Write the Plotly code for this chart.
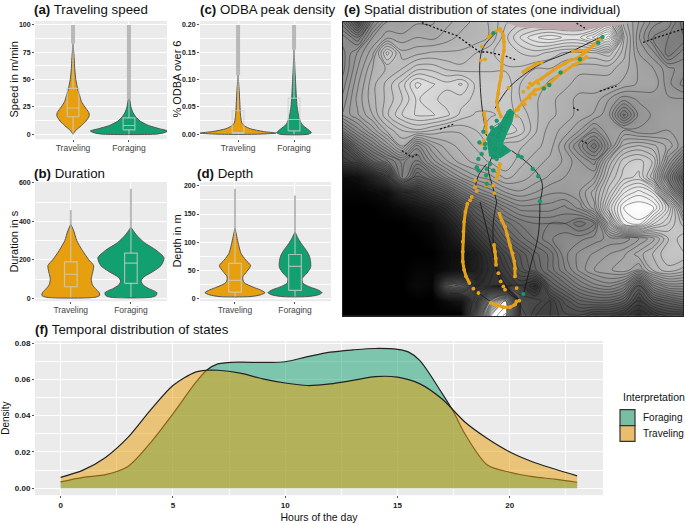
import plotly.graph_objects as go

W, H = 685, 523
ORANGE = "#E69F0F"
GREEN = "#12A070"
PANEL = "#EBEBEB"
FONT = "Liberation Sans"

# ---- violin profiles: value, half-width (in category units) ----
speed_trav_y = [0, 3, 8, 12, 17, 20, 25, 30, 35, 40, 50, 60, 70, 83]
speed_trav_w = [0, .04, .15, .23, .29, .28, .21, .15, .12, .09, .05, .03, .02, 0]
speed_for_y = [0, 1, 3, 5, 8, 12, 16, 20, 25, 32]
speed_for_w = [.45, .6, .69, .55, .35, .2, .12, .07, .035, .01]
odba_trav_y = [0, .002, .005, .01, .015, .02, .03, .04, .06, .08, .108]
odba_trav_w = [.3, .68, .45, .22, .12, .07, .05, .04, .03, .02, 0]
odba_for_y = [0, .003, .008, .015, .02, .03, .04, .05, .07, .09, .12, .155]
odba_for_w = [.25, .31, .26, .17, .13, .09, .07, .055, .04, .03, .015, 0]
dur_trav_y = [5, 15, 30, 50, 70, 100, 130, 170, 200, 250, 300, 350, 385]
dur_trav_w = [.40, .48, .47, .41, .36, .34, .36, .38, .30, .19, .10, .05, 0]
dur_for_y = [5, 15, 30, 50, 70, 90, 110, 140, 170, 210, 250, 290, 330, 370]
dur_for_w = [.33, .42, .43, .30, .20, .17, .21, .37, .50, .55, .42, .22, .09, 0]
depth_trav_y = [3, 6, 10, 15, 20, 28, 38, 48, 58, 68, 80, 100, 125]
depth_trav_w = [.25, .42, .50, .42, .30, .15, .13, .2, .26, .18, .10, .05, 0]
depth_for_y = [3, 6, 10, 15, 20, 27, 35, 45, 55, 65, 75, 85, 95, 105, 118]
depth_for_w = [.2, .38, .45, .38, .25, .13, .12, .2, .26, .26, .24, .19, .12, .06, 0]

# box statistics: low, q1, median, q3, high
speed_box = [[0, 16, 24, 42, 83], [0, 4, 8, 15, 32]]
odba_box = [[0, .002, .003, .043, .108], [0, .006, .027, .066, .155]]
dur_box = [[5, 60, 125, 190, 385], [5, 78, 183, 235, 370]]
depth_box = [[3, 11, 32, 62, 125], [3, 14, 57, 78, 118]]
# outlier span above the violin (low, high)
speed_out = [[83, 100], [32, 100]]
odba_out = [[.108, .2], [.155, .2]]
dur_out = [[385, 460], [370, 570]]
depth_out = [[125, 195], [118, 183]]

categories = ["Traveling", "Foraging"]

# ---- temporal densities ----
hours_for = [0, 1, 2, 3, 4, 5, 6, 6.5, 7, 8, 9, 10, 11, 12, 13, 14, 15, 15.5, 16, 17, 17.5, 18, 19, 20, 21, 22, 23]
dens_for = [.0035, .006, .0075, .012, .025, .041, .058, .065, .0685, .0695, .0693, .0697, .0725, .075, .0762,
            .077, .0765, .075, .0703, .052, .042, .030, .0128, .0088, .0064, .005, .0033]
hours_trav = [0, 1, 2, 3, 4, 5, 6, 6.5, 7, 8, 9, 10, 11, 12, 13, 14, 15, 16, 17, 18, 19, 20, 21, 22, 23]
dens_trav = [.006, .010, .017, .028, .043, .0566, .064, .065, .065, .0634, .0603, .058, .0566, .0575, .0594,
             .0615, .0612, .0575, .049, .0365, .0274, .020, .0146, .0106, .0068]

# ---- map: grey level of the bathymetry ----
map_x = [8, 52, 97, 141, 186, 230, 275, 319, 363, 408, 452, 497, 541, 586, 630, 674, 719, 763, 808, 852, 897, 941, 986, 1030]
map_y = [56, 103, 150, 197, 244, 290, 337, 384, 431, 478, 525, 571, 618, 665, 711, 758, 805, 852, 899, 945]
map_z = [
    [115, 80, 130, 150, 150, 155, 155, 160, 165, 170, 175, 185, 190, 190, 190, 190, 190, 190, 205, 165, 150, 135, 130, 110],
    [135, 120, 150, 160, 158, 162, 160, 165, 170, 170, 175, 190, 205, 215, 220, 215, 215, 230, 250, 175, 145, 125, 120, 115],
    [130, 145, 160, 195, 170, 172, 175, 175, 175, 180, 185, 190, 192, 195, 190, 185, 185, 185, 190, 170, 150, 140, 115, 130],
    [130, 150, 168, 175, 180, 190, 190, 185, 182, 185, 185, 185, 185, 180, 180, 175, 170, 170, 170, 165, 155, 150, 140, 135],
    [135, 155, 172, 182, 195, 212, 205, 200, 205, 190, 190, 190, 180, 180, 172, 170, 165, 165, 165, 160, 155, 155, 140, 130],
    [140, 158, 172, 182, 192, 205, 200, 195, 195, 190, 190, 190, 180, 175, 170, 165, 160, 160, 150, 140, 145, 145, 145, 145],
    [145, 155, 168, 185, 198, 205, 205, 200, 190, 185, 185, 188, 185, 175, 170, 165, 160, 155, 145, 112, 140, 145, 150, 150],
    [115, 135, 152, 170, 180, 185, 180, 175, 175, 180, 192, 198, 190, 175, 165, 160, 150, 135, 150, 150, 145, 145, 150, 150],
    [70, 105, 125, 145, 168, 135, 155, 165, 170, 175, 180, 175, 175, 170, 165, 150, 130, 110, 140, 170, 175, 170, 160, 145],
    [55, 65, 95, 112, 128, 118, 140, 155, 165, 170, 175, 180, 170, 165, 160, 155, 145, 135, 170, 190, 195, 185, 145, 115],
    [10, 15, 35, 60, 130, 95, 110, 130, 145, 155, 160, 170, 165, 160, 155, 150, 150, 150, 180, 195, 200, 175, 125, 85],
    [5, 5, 10, 15, 40, 50, 70, 85, 110, 130, 140, 150, 155, 150, 145, 145, 150, 165, 190, 215, 225, 215, 155, 105],
    [0, 0, 0, 5, 10, 20, 30, 45, 70, 90, 110, 125, 135, 135, 135, 130, 140, 160, 205, 235, 240, 235, 205, 155],
    [0, 0, 0, 0, 0, 5, 10, 25, 45, 70, 85, 105, 115, 120, 120, 120, 110, 120, 175, 225, 232, 205, 192, 178],
    [0, 0, 0, 0, 0, 0, 5, 15, 30, 50, 70, 90, 105, 115, 125, 130, 130, 135, 140, 140, 150, 160, 180, 190],
    [0, 0, 0, 0, 0, 0, 0, 10, 15, 30, 50, 70, 85, 100, 110, 130, 140, 145, 150, 155, 165, 175, 185, 185],
    [0, 0, 0, 0, 0, 5, 5, 10, 20, 30, 45, 60, 80, 95, 110, 125, 140, 150, 155, 160, 150, 170, 178, 172],
    [0, 0, 0, 0, 0, 10, 5, 90, 100, 40, 50, 50, 60, 40, 90, 105, 120, 130, 135, 125, 85, 125, 140, 140],
    [0, 0, 0, 0, 0, 0, 0, 10, 20, 70, 180, 240, 70, 70, 60, 80, 95, 100, 100, 90, 60, 85, 95, 105],
    [0, 0, 0, 0, 0, 0, 0, 0, 0, 120, 240, 255, 80, 60, 60, 70, 70, 60, 60, 50, 40, 50, 60, 60],
]
land_x = [490, 540, 590, 690, 730, 790, 860, 870, 490]
land_y = [56, 72, 75, 82, 80, 72, 62, 56, 56]
coast_segments = [
    [(245, 58), (300, 80), (349, 97), (419, 147), (440, 147), (490, 157), (530, 172)],
    [(710, 60), (735, 75)],
    [(910, 118), (960, 100), (1030, 78)],
    [(185, 445), (215, 465), (235, 455)],
    [(725, 415), (745, 425)],
    [(700, 315), (720, 325)],
    [(300, 380), (340, 365)],
    [(780, 265), (830, 250)],
]
track_segments = [
    [(480, 77), (430, 132), (420, 172), (420, 237), (425, 307), (432, 357), (440, 400)],
    [(465, 317), (505, 257), (550, 217), (605, 182), (690, 147), (790, 98)],
    [(420, 600), (430, 640), (445, 700), (470, 800), (510, 870), (535, 895)],
    [(470, 600), (460, 660), (460, 730), (470, 810), (500, 870), (535, 895)],
    [(600, 600), (595, 700), (575, 780), (560, 840), (550, 880)],
    [(415, 875), (450, 900)],
    [(600, 600), (607, 545), (590, 510), (560, 480), (515, 445)],
    [(405, 560), (415, 520), (440, 485)],
    [(470, 600), (460, 560), (445, 500), (455, 465)],
]
travel_chains = [
    [(445, 102), (460, 89), (480, 77), (490, 97), (492, 117), (492, 142), (487, 167), (485, 192), (483, 222),
     (478, 247), (475, 272), (470, 297), (475, 322), (483, 342)],
    [(575, 247), (590, 235), (605, 227), (625, 212), (640, 202), (655, 192), (675, 182), (690, 172), (710, 167),
     (730, 152), (745, 142), (760, 127), (775, 112), (785, 105)],
    [(550, 207), (565, 197), (590, 182), (605, 179)],
    [(510, 337), (530, 322), (550, 297), (570, 277), (585, 262), (605, 257), (630, 242), (650, 222), (670, 207),
     (700, 187), (720, 177), (740, 162)],
    [(382, 605), (376, 630), (372, 660), (370, 690), (368, 720), (368, 750), (368, 780), (372, 805), (378, 825), (388, 845)],
    [(478, 635), (485, 655), (495, 675), (502, 700), (510, 730), (518, 755), (523, 780), (525, 800), (525, 825)],
    [(462, 730), (465, 750), (467, 770), (468, 790)],
    [(452, 905), (470, 912), (490, 918), (510, 918), (525, 910), (530, 900)],
    [(480, 485), (477, 500), (475, 515), (470, 530)],
    [(700, 145), (740, 142)],
    [(432, 330), (438, 365), (438, 390)],
]
travel_x = [425, 422, 432, 425, 405, 405, 410, 395, 390, 440, 438, 460, 463,
            585, 570, 555, 535, 435, 510, 530, 505, 550, 565, 570, 595,
            400, 415, 475, 482, 490, 495, 538, 530]
travel_y = [130, 172, 415, 425, 535, 555, 567, 585, 595, 540, 550, 550, 573,
            275, 285, 305, 320, 169, 345, 340, 255, 267, 255, 242, 242,
            862, 875, 815, 840, 855, 865, 898, 860]
forage_cluster_x = [510, 490, 480, 460, 445, 445, 450, 480, 510, 485, 495, 515, 520, 510]
forage_cluster_y = [320, 350, 370, 380, 400, 430, 460, 465, 445, 425, 400, 355, 330, 320]
forage_x = [460, 612, 628, 662, 720, 775, 788, 430, 418, 435, 425, 415, 410, 415, 450, 440, 460, 438, 440,
            535, 545, 578, 595, 600, 550, 470, 480, 495, 490, 455, 450, 475, 465, 500, 505, 460, 445, 435,
            470, 492, 478, 455, 485]
forage_y = [90, 257, 247, 209, 169, 119, 102, 388, 420, 438, 455, 470, 495, 505, 485, 500, 505, 520, 545,
            460, 465, 500, 522, 598, 878, 355, 370, 350, 380, 395, 425, 400, 440, 340, 330, 465, 410, 425,
            470, 440, 385, 375, 455]

# ---- panels, pixel boxes of the plot areas ----
def dom_x(a, b):
    return [a / W, b / W]

def dom_y(top, bottom):
    return [1 - bottom / H, 1 - top / H]

fig = go.Figure()

def unpack(segments):
    xs, ys = [], []
    for seg in segments:
        xs += [p[0] for p in seg] + [None]
        ys += [p[1] for p in seg] + [None]
    return xs, ys

def violin(n, pos, ys, ws, color):
    px = [pos - w for w in ws] + [pos + w for w in reversed(ws)] + [pos - ws[0]]
    py = list(ys) + list(reversed(ys)) + [ys[0]]
    fig.add_trace(go.Scatter(x=px, y=py, mode="lines", fill="toself", fillcolor=color,
                             line=dict(color="#555555", width=1, shape="spline", smoothing=0.7),
                             xaxis=f"x{n}", yaxis=f"y{n}", showlegend=False, hoverinfo="skip"))

def box(n, pos, stats, out, width):
    lo, q1, med, q3, hi = stats
    bw = 0.105
    fig.add_trace(go.Scatter(x=[pos, pos], y=out, mode="lines",
                             line=dict(color="rgba(178,178,178,0.9)", width=width),
                             xaxis=f"x{n}", yaxis=f"y{n}", showlegend=False, hoverinfo="skip"))
    bx = [pos, pos, None, pos, pos, None, pos - bw, pos + bw, pos + bw, pos - bw, pos - bw, None, pos - bw, pos + bw]
    by = [lo, q1, None, q3, hi, None, q1, q1, q3, q3, q1, None, med, med]
    fig.add_trace(go.Scatter(x=bx, y=by, mode="lines", line=dict(color="rgba(205,205,205,0.75)", width=1.2),
                             xaxis=f"x{n}", yaxis=f"y{n}", showlegend=False, hoverinfo="skip"))

panels = [
    (1, speed_trav_y, speed_trav_w, speed_for_y, speed_for_w, speed_box, speed_out, 4),
    (2, odba_trav_y, odba_trav_w, odba_for_y, odba_for_w, odba_box, odba_out, 4),
    (3, dur_trav_y, dur_trav_w, dur_for_y, dur_for_w, dur_box, dur_out, 2),
    (4, depth_trav_y, depth_trav_w, depth_for_y, depth_for_w, depth_box, depth_out, 2),
]
for n, ty, tw, fy, fw, bx, ou, ow in panels:
    violin(n, 1, ty, tw, ORANGE)
    violin(n, 2, fy, fw, GREEN)
    box(n, 1, bx[0], ou[0], ow)
    box(n, 2, bx[1], ou[1], ow)

# map
fig.add_trace(go.Heatmap(x=map_x, y=map_y, z=map_z, zmin=0, zmax=240, zsmooth="best", showscale=False,
                         colorscale=[[0, "#000000"], [1, "#ffffff"]], xaxis="x5", yaxis="y5", hoverinfo="skip"))
fig.add_trace(go.Contour(x=map_x, y=map_y, z=map_z, showscale=False, hoverinfo="skip",
                         contours=dict(coloring="none", start=12, end=252, size=6),
                         line=dict(color="rgba(25,25,25,0.72)", width=0.6, smoothing=1.0),
                         xaxis="x5", yaxis="y5"))
fig.add_trace(go.Scatter(x=land_x, y=land_y, mode="lines", fill="toself", fillcolor="#BBA6AA",
                         line=dict(width=0), xaxis="x5", yaxis="y5", showlegend=False, hoverinfo="skip"))
cx, cy = unpack(coast_segments)
fig.add_trace(go.Scatter(x=cx, y=cy, mode="lines", line=dict(color="#111111", width=1.3, dash="2px,2px"),
                         xaxis="x5", yaxis="y5", showlegend=False, hoverinfo="skip"))
tx, ty = unpack(track_segments)
fig.add_trace(go.Scatter(x=tx, y=ty, mode="lines", line=dict(color="#1a1a1a", width=0.9, shape="spline"),
                         xaxis="x5", yaxis="y5", showlegend=False, hoverinfo="skip"))
ox, oy = unpack(travel_chains)
fig.add_trace(go.Scatter(x=ox, y=oy, mode="lines+markers", line=dict(color="#E5A11A", width=3),
                         marker=dict(color="#E5A11A", size=3.8),
                         xaxis="x5", yaxis="y5", showlegend=False, hoverinfo="skip"))
fig.add_trace(go.Scatter(x=travel_x, y=travel_y, mode="markers", marker=dict(color="#E5A11A", size=3.8),
                         xaxis="x5", yaxis="y5", showlegend=False, hoverinfo="skip"))
fig.add_trace(go.Scatter(x=forage_cluster_x, y=forage_cluster_y, mode="lines", fill="toself", fillcolor="#1B9A72",
                         line=dict(color="#1B9A72", width=2), xaxis="x5", yaxis="y5", showlegend=False, hoverinfo="skip"))
fig.add_trace(go.Scatter(x=forage_x, y=forage_y, mode="markers",
                         marker=dict(color="#1B9A72", size=4, line=dict(color="#157a5a", width=0.3)),
                         xaxis="x5", yaxis="y5", showlegend=False, hoverinfo="skip"))

# temporal densities
fig.add_trace(go.Scatter(x=hours_for, y=dens_for, mode="lines", fill="tozeroy", fillcolor="rgba(18,160,112,0.5)",
                         line=dict(color="#222222", width=1.2, shape="spline", smoothing=0.8),
                         xaxis="x6", yaxis="y6", name="Foraging", showlegend=False, hoverinfo="skip"))
fig.add_trace(go.Scatter(x=hours_trav, y=dens_trav, mode="lines", fill="tozeroy", fillcolor="rgba(230,159,15,0.52)",
                         line=dict(color="#222222", width=1.2, shape="spline", smoothing=0.8),
                         xaxis="x6", yaxis="y6", name="Traveling", showlegend=False, hoverinfo="skip"))

tick_small = dict(family=FONT, size=7, color="#1a1a1a")
tick_wide = dict(family=FONT, size=8, color="#1a1a1a")
catfont = dict(family=FONT, size=8.5, color="#444444")

def cat_axis(a, b, rng, anchor):
    return dict(domain=dom_x(a, b), range=rng, anchor=anchor, tickvals=[1, 2], ticktext=categories,
                tickfont=catfont, showgrid=True, gridcolor="white", gridwidth=1, zeroline=False,
                ticks="outside", ticklen=2, tickcolor="#555555", tickwidth=1, showline=False, ticklabelstandoff=-1)

def val_axis(top, bottom, rng, anchor, vals, labels, minor):
    return dict(domain=dom_y(top, bottom), range=rng, anchor=anchor, tickvals=vals,
                ticktext=[f"<b>{t}</b>" for t in labels], tickfont=tick_small, showgrid=True, gridcolor="white",
                gridwidth=1.1, zeroline=False, ticks="outside", ticklen=2, tickcolor="#555555", tickwidth=1,
                minor=dict(tickvals=minor, showgrid=True, gridcolor="white", gridwidth=0.5, ticks=""))

def yr(y0px, y1px, v1, top, bottom):
    """Axis range for a panel whose 0 sits at y0px and value v1 at y1px."""
    k = v1 / (y0px - y1px)
    return [(y0px - bottom) * k, (y0px - top) * k]

layout = dict(width=W, height=H, margin=dict(l=0, r=0, t=0, b=0), paper_bgcolor="white", plot_bgcolor=PANEL,
              font=dict(family=FONT), showlegend=False,
              xaxis=cat_axis(35, 167, [.32, 2.68], "y"),
              yaxis=val_axis(18, 137, yr(132, 22, 100, 18, 137), "x", [0, 25, 50, 75, 100],
                             ["0", "25", "50", "75", "100"], [12.5, 37.5, 62.5, 87.5]),
              xaxis2=cat_axis(200, 331, [.32, 2.66], "y2"),
              yaxis2=val_axis(18, 137, yr(132, 22, .2, 18, 137), "x2", [0, .05, .1, .15, .2],
                              ["0.00", "0.05", "0.10", "0.15", "0.20"], [.025, .075, .125, .175]),
              xaxis3=cat_axis(35, 167, [.405, 2.6], "y3"),
              yaxis3=val_axis(180, 300, yr(297, 181, 600, 180, 300), "x3", [0, 200, 400, 600],
                              ["0", "200", "400", "600"], [100, 300, 500]),
              xaxis4=cat_axis(200, 331, [.417, 2.6], "y4"),
              yaxis4=val_axis(180, 300, yr(297, 184, 200, 180, 300), "x4", [0, 50, 100, 150, 200],
                              ["0", "50", "100", "150", "200"], [25, 75, 125, 175]),
              xaxis5=dict(domain=dom_x(343, 683), range=[8, 1030], anchor="y5", showticklabels=False, ticks="",
                          showgrid=False, zeroline=False, mirror=True, showline=True, linecolor="#222222", linewidth=1),
              yaxis5=dict(domain=dom_y(19, 315), range=[945, 56], anchor="x5", showticklabels=False, ticks="",
                          showgrid=False, zeroline=False, mirror=True, showline=True, linecolor="#222222", linewidth=1),
              xaxis6=dict(domain=dom_x(35, 603), range=[-1.14, 24.15], anchor="y6", tickvals=[0, 5, 10, 15, 20],
                          ticktext=["<b>0</b>", "<b>5</b>", "<b>10</b>", "<b>15</b>", "<b>20</b>"], tickfont=tick_wide,
                          showgrid=True, gridcolor="white", gridwidth=1.1, zeroline=False, ticks="outside", ticklen=2,
                          tickcolor="#555555", minor=dict(tickvals=[2.5, 7.5, 12.5, 17.5, 22.5], showgrid=True,
                                                         gridcolor="white", gridwidth=0.5, ticks=""),
                          title=dict(text="Hours of the day", font=dict(family=FONT, size=10.5, color="#111111"), standoff=5)),
              yaxis6=dict(domain=dom_y(340, 495), range=[-.0038, .0811], anchor="x6", tickvals=[0, .02, .04, .06, .08],
                          ticktext=["<b>0.00</b>", "<b>0.02</b>", "<b>0.04</b>", "<b>0.06</b>", "<b>0.08</b>"],
                          tickfont=tick_wide, showgrid=True, gridcolor="white", gridwidth=1.1, zeroline=False,
                          ticks="outside", ticklen=2, tickcolor="#555555",
                          minor=dict(tickvals=[.01, .03, .05, .07], showgrid=True, gridcolor="white", gridwidth=0.5, ticks=""),
                          title=dict(text="Density", font=dict(family=FONT, size=10, color="#111111"), standoff=3)),
              )
fig.update_layout(**layout)

titles = [
    ("(a)", "Traveling speed", 32, 7), ("(c)", "ODBA peak density", 198, 7),
    ("(b)", "Duration", 32, 171), ("(d)", "Depth", 195, 171),
    ("(e)", "Spatial distribution of states (one individual)", 342, 7),
    ("(f)", "Temporal distribution of states", 33, 328),
]
for tag, text, x, y in titles:
    fig.add_annotation(text=f"<b>{tag}</b> {text}", xref="paper", yref="paper", x=x / W, y=1 - y / H,
                       xanchor="left", yanchor="middle", showarrow=False,
                       font=dict(family=FONT, size=13.3, color="#111111"))

y_titles = [("Speed in m/min", 14, 77), ("% ODBA over 6", 177, 77), ("Duration in s", 14, 240), ("Depth in m", 177, 240)]
for text, x, y in y_titles:
    fig.add_annotation(text=text, xref="paper", yref="paper", x=x / W, y=1 - y / H, textangle=-90,
                       xanchor="center", yanchor="middle", showarrow=False,
                       font=dict(family=FONT, size=11, color="#111111"))

# legend keys
legend_items = [("Foraging", "#78BEA3", 409, 425), ("Traveling", "#E8BE6E", 425, 441)]
for label, col, top, bottom in legend_items:
    fig.add_shape(type="rect", xref="paper", yref="paper", x0=620 / W, x1=635 / W, y0=1 - bottom / H, y1=1 - top / H,
                  fillcolor=col, line=dict(color="#333333", width=1.2))
    fig.add_annotation(text=label, xref="paper", yref="paper", x=641 / W, y=1 - (top + bottom) / 2 / H, xanchor="left",
                       yanchor="middle", showarrow=False, font=dict(family=FONT, size=10, color="#111111"))
fig.add_annotation(text="Interpretation", xref="paper", yref="paper", x=621 / W, y=1 - 396 / H, xanchor="left",
                   yanchor="middle", showarrow=False, font=dict(family=FONT, size=10.5, color="#111111"))

fig.write_html("out.html", config={"displayModeBar": False},
               post_script="document.body.style.margin='0';document.body.style.overflow='hidden';")
